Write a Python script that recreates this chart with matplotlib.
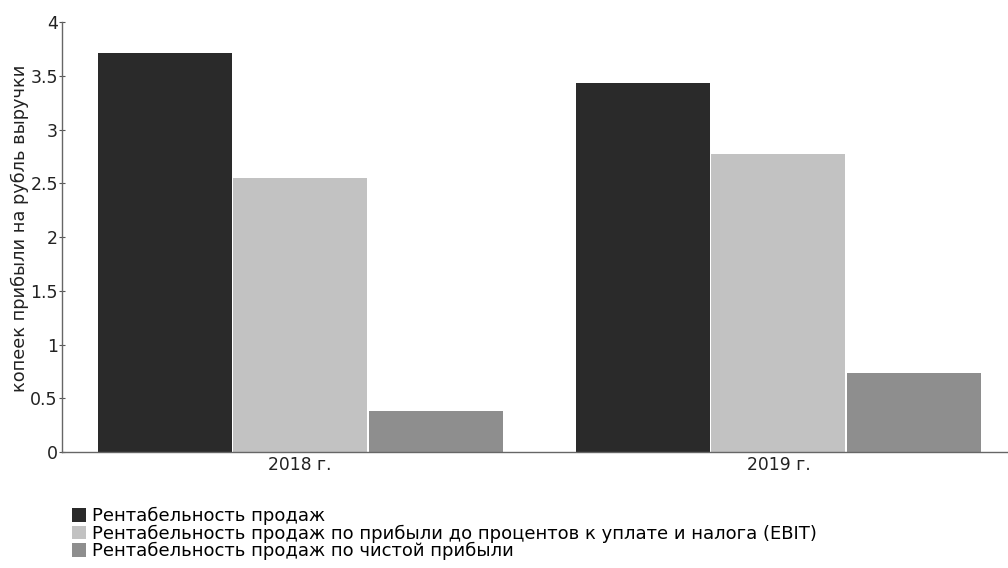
import matplotlib
matplotlib.use('Agg')
import matplotlib.pyplot as plt
import numpy as np

plt.rcParams['font.family'] = ['DejaVu Sans']

years = ['2018 г.', '2019 г.']
series_names = [
    'Рентабельность продаж',
    'Рентабельность продаж по прибыли до процентов к уплате и налога (EBIT)',
    'Рентабельность продаж по чистой прибыли',
]
sales_margin = [3.71, 3.43]
ebit_margin = [2.55, 2.77]
net_margin = [0.38, 0.735]
colors = ['#2a2a2a', '#c2c2c2', '#8e8e8e']

fig = plt.figure(figsize=(10.08, 5.68), dpi=100)
ax = fig.add_axes([0.0615, 0.204, 0.9385, 0.757])

x = np.arange(len(years))
width = 0.283
values = [sales_margin, ebit_margin, net_margin]
for i, (vals, name, col) in enumerate(zip(values, series_names, colors)):
    ax.bar(x + (i - 1) * width, vals, width=width * 0.99, color=col, label=name,
           edgecolor='none')

ax.set_xlim(-0.498, 1.48)
ax.set_ylim(0, 4)
ax.set_yticks([0, 0.5, 1, 1.5, 2, 2.5, 3, 3.5, 4])
ax.set_yticklabels(['0', '0.5', '1', '1.5', '2', '2.5', '3', '3.5', '4'])
ax.set_xticks(x)
ax.set_xticklabels(years)
ax.tick_params(axis='y', direction='inout', length=4, width=0.8, colors='#555555',
               labelcolor='#222222', labelsize=12.5, pad=1)
ax.tick_params(axis='x', length=0, labelsize=12.3, labelcolor='#222222', pad=3)

for s in ['top', 'right']:
    ax.spines[s].set_visible(False)
for s in ['left', 'bottom']:
    ax.spines[s].set_color('#666666')
    ax.spines[s].set_linewidth(1.0)

ax.set_ylabel('копеек прибыли на рубль выручки', fontsize=12.8, color='#222222')
ax.yaxis.set_label_coords(-0.035, 0.52)

fig.legend(loc='upper left', bbox_to_anchor=(0.0714, 0.107), frameon=False,
           fontsize=13, handlelength=0.8, handleheight=0.8, handletextpad=0.3,
           labelspacing=-0.05, borderaxespad=0, borderpad=0)

fig.savefig('out.png', dpi=100)
